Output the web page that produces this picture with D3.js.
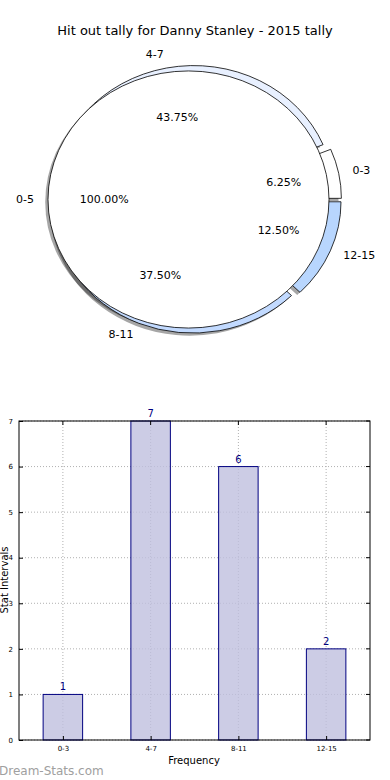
<!DOCTYPE html>
<html>
<head>
<meta charset="utf-8">
<script src="https://d3js.org/d3.v7.min.js"></script>
<style>
body { margin:0; background:#fff; }
text { font-family: "DejaVu Sans", sans-serif; }
</style>
</head>
<body>
<div id="chart"></div>
<script>
// data
let ringLabels = ["0-3", "4-7", "8-11", "12-15"];
let ringValues = [1, 7, 6, 2];
let ringColors = ["#ffffff", "#e8f0ff", "#c2daff", "#b8d6fe"];
let innerLabels = ["0-5"];
let innerValues = [16];
let barCats = ["0-3", "4-7", "8-11", "12-15"];
let barValues = [1, 7, 6, 2];
let yTicks = [0, 1, 2, 3, 4, 5, 6, 7];

let width = 390, height = 780;
let svg = d3.select("#chart").append("svg")
  .attr("width", width).attr("height", height);

svg.append("text")
  .attr("x", 195).attr("y", 35)
  .attr("text-anchor", "middle")
  .style("font-size", "13px")
  .text("Hit out tally for Danny Stanley - 2015 tally");

// ---- pie (matplotlib-ish: starts at 3 o'clock, counter clockwise, exploded) ----
let cx = 195, cy = 199.5, sy = 0.915;
let R = 140, explode = 6.5, Rin = 140.5;

let pie = d3.pie().sort(null).startAngle(Math.PI / 2).endAngle(Math.PI / 2 - 2 * Math.PI);
let ring = pie(ringValues);
let inner = pie(innerValues);

function mid(d) { return (d.startAngle + d.endAngle) / 2; }
function off(d, k) { return [Math.sin(mid(d)) * k, -Math.cos(mid(d)) * k]; }

let ringArc = d3.arc().innerRadius(60).outerRadius(R);
let innerArc = d3.arc().innerRadius(0).outerRadius(Rin);

let pg = svg.append("g").attr("transform", `translate(${cx},${cy}) scale(1,${sy})`);

// shadows first
let shadows = pg.append("g").attr("transform", "translate(-2.8,2.8)");
shadows.selectAll(".rs").data(ring).enter().append("path")
  .attr("transform", d => `translate(${off(d, explode)})`)
  .attr("d", ringArc)
  .attr("fill", "#000").attr("fill-opacity", 0.35);
shadows.selectAll(".is").data(inner).enter().append("path")
  .attr("transform", "translate(" + (-explode) + ",0)")
  .attr("d", innerArc)
  .attr("fill", "#000").attr("fill-opacity", 0.35);

pg.selectAll(".ring").data(ring).enter().append("path")
  .attr("transform", d => `translate(${off(d, explode)})`)
  .attr("d", ringArc)
  .attr("fill", (d, i) => ringColors[i])
  .attr("stroke", "#000").attr("stroke-width", 0.8)
  .attr("vector-effect", "non-scaling-stroke");

pg.selectAll(".inner").data(inner).enter().append("path")
  .attr("transform", "translate(" + (-explode) + ",0)")
  .attr("d", innerArc)
  .attr("fill", "#fff")
  .attr("stroke", "#000").attr("stroke-width", 0.8)
  .attr("vector-effect", "non-scaling-stroke");

// labels (unscaled coordinates)
let total = d3.sum(ringValues);
ring.forEach(function(d, i) {
  let o = off(d, 1.1 * R + explode);
  svg.append("text")
    .attr("x", cx + o[0]).attr("y", cy + o[1] * sy)
    .attr("text-anchor", o[0] > 0 ? "start" : "end")
    .attr("dominant-baseline", "middle")
    .style("font-size", "11px")
    .text(ringLabels[i]);
  let p = off(d, 0.6 * R + explode);
  svg.append("text")
    .attr("x", cx + p[0]).attr("y", cy + p[1] * sy)
    .attr("text-anchor", "middle")
    .attr("dominant-baseline", "middle")
    .style("font-size", "11px")
    .text((ringValues[i] / total * 100).toFixed(2) + "%");
});
inner.forEach(function(d, i) {
  svg.append("text")
    .attr("x", cx - explode - 1.1 * Rin).attr("y", cy)
    .attr("text-anchor", "end")
    .attr("dominant-baseline", "middle")
    .style("font-size", "11px")
    .text(innerLabels[i]);
  svg.append("text")
    .attr("x", cx - explode - 0.6 * Rin).attr("y", cy)
    .attr("text-anchor", "middle")
    .attr("dominant-baseline", "middle")
    .style("font-size", "11px")
    .text((innerValues[i] / d3.sum(innerValues) * 100).toFixed(2) + "%");
});

// ---- bar chart ----
let mLeft = 19, mRight = 370, mTop = 421, mBottom = 740;
let x = d3.scaleLinear().domain([-0.5, 3.5]).range([mLeft, mRight]);
let y = d3.scaleLinear().domain([0, 7]).range([mBottom, mTop]);
let bw = x(0.45) - x(0);

let grid = svg.append("g").attr("stroke", "#b0b0b0").attr("stroke-width", 1)
  .attr("stroke-dasharray", "1,2");
barCats.forEach(function(c, i) {
  grid.append("line").attr("x1", x(i)).attr("x2", x(i)).attr("y1", mTop).attr("y2", mBottom);
});
yTicks.forEach(function(t) {
  grid.append("line").attr("x1", mLeft).attr("x2", mRight).attr("y1", y(t)).attr("y2", y(t));
});

svg.selectAll(".bar").data(barValues).enter().append("rect")
  .attr("x", (d, i) => x(i) - bw / 2)
  .attr("y", d => y(d))
  .attr("width", bw)
  .attr("height", d => mBottom - y(d))
  .attr("fill", "#bfbfdf").attr("fill-opacity", 0.8)
  .attr("stroke", "#000080").attr("stroke-width", 1);

svg.selectAll(".val").data(barValues).enter().append("text")
  .attr("x", (d, i) => x(i))
  .attr("y", d => y(d) - 4)
  .attr("text-anchor", "middle")
  .attr("fill", "#000080")
  .style("font-size", "10px")
  .text(d => d);

// frame
svg.append("rect").attr("x", mLeft).attr("y", mTop)
  .attr("width", mRight - mLeft).attr("height", mBottom - mTop)
  .attr("fill", "none").attr("stroke", "#000").attr("stroke-width", 1);

// axes
let xAxis = d3.axisBottom(x).tickValues([0, 1, 2, 3])
  .tickFormat(i => barCats[i]).tickSizeInner(-4).tickSizeOuter(0).tickPadding(6);
let gx = svg.append("g").attr("transform", `translate(0,${mBottom})`).call(xAxis);
gx.select(".domain").remove();
gx.selectAll("text").style("font-size", "7px").attr("fill", "#000");

let yAxis = d3.axisLeft(y).tickValues(yTicks).tickFormat(d3.format("d"))
  .tickSizeInner(-4).tickSizeOuter(0).tickPadding(6);
let gy = svg.append("g").attr("transform", `translate(${mLeft},0)`).call(yAxis);
gy.select(".domain").remove();
gy.selectAll("text").style("font-size", "7px").attr("fill", "#000");

// opposite side ticks
let tr = svg.append("g").attr("stroke", "#000");
yTicks.forEach(function(t) {
  tr.append("line").attr("x1", mRight).attr("x2", mRight - 4).attr("y1", y(t)).attr("y2", y(t));
});
barCats.forEach(function(c, i) {
  tr.append("line").attr("x1", x(i)).attr("x2", x(i)).attr("y1", mTop).attr("y2", mTop + 4);
});

svg.append("text")
  .attr("x", 194).attr("y", 764)
  .attr("text-anchor", "middle")
  .style("font-size", "10px")
  .text("Frequency");

svg.append("text")
  .attr("transform", "translate(8,580) rotate(-90)")
  .attr("text-anchor", "middle")
  .style("font-size", "10px")
  .text("Stat Intervals");

svg.append("text")
  .attr("x", -1).attr("y", 775)
  .attr("fill", "#a0a0a0")
  .style("font-size", "12px")
  .text("Dream-Stats.com");
</script>
</body>
</html>
